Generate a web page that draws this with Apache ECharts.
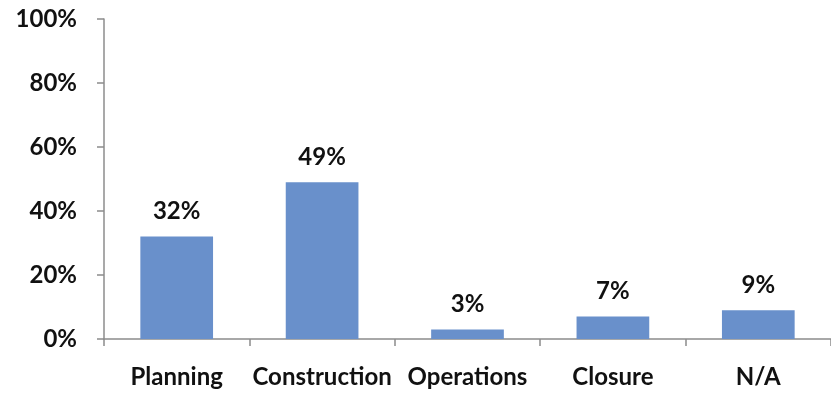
<!DOCTYPE html>
<html>
<head>
<meta charset="utf-8">
<style>
  html, body { margin: 0; padding: 0; background: #ffffff; }
  #chart { width: 831px; height: 396px; }
</style>
<script src="https://cdn.jsdelivr.net/npm/echarts@6/dist/echarts.min.js"></script>
</head>
<body>
<div id="chart"></div>
<script>
// Project phase shares (percent)
const categories = ['Planning', 'Construction', 'Operations', 'Closure', 'N/A'];
const shares = [32, 49, 3, 7, 9];
const yTicks = [0, 20, 40, 60, 80, 100];

const barColor = '#6990CB';
const textColor = '#111111';
const axisColor = '#8c8c8c';
const fontFamily = 'Lato, "Open Sans", sans-serif';

const chart = echarts.init(document.getElementById('chart'), null, { renderer: 'canvas' });

chart.setOption({
  animation: false,
  backgroundColor: '#ffffff',
  grid: { left: 104, top: 19, height: 320, width: 733, containLabel: false },
  xAxis: {
    type: 'category',
    data: categories,
    axisLine: { show: true, lineStyle: { color: axisColor, width: 1.5 } },
    axisTick: { show: true, alignWithLabel: false, length: 7, lineStyle: { color: axisColor, width: 1.5 } },
    axisLabel: {
      color: textColor, fontFamily: fontFamily, fontWeight: 'bold', fontSize: 24,
      margin: 26, interval: 0
    },
    splitLine: { show: false }
  },
  yAxis: {
    type: 'value',
    min: yTicks[0],
    max: yTicks[yTicks.length - 1],
    interval: yTicks[1] - yTicks[0],
    axisLine: { show: true, lineStyle: { color: axisColor, width: 1.5 } },
    axisTick: { show: true, length: 7, lineStyle: { color: axisColor, width: 1.5 } },
    axisLabel: {
      color: textColor, fontFamily: fontFamily, fontWeight: 'bold', fontSize: 24,
      margin: 27, formatter: v => v + '%'
    },
    splitLine: { show: false }
  },
  series: [{
    type: 'bar',
    data: shares,
    barWidth: '50%',
    itemStyle: { color: barColor },
    label: {
      show: true,
      position: 'top',
      distance: 13,
      color: textColor,
      fontFamily: fontFamily,
      fontWeight: 'bold',
      fontSize: 24,
      formatter: p => p.value + '%'
    }
  }]
});
</script>
</body>
</html>
